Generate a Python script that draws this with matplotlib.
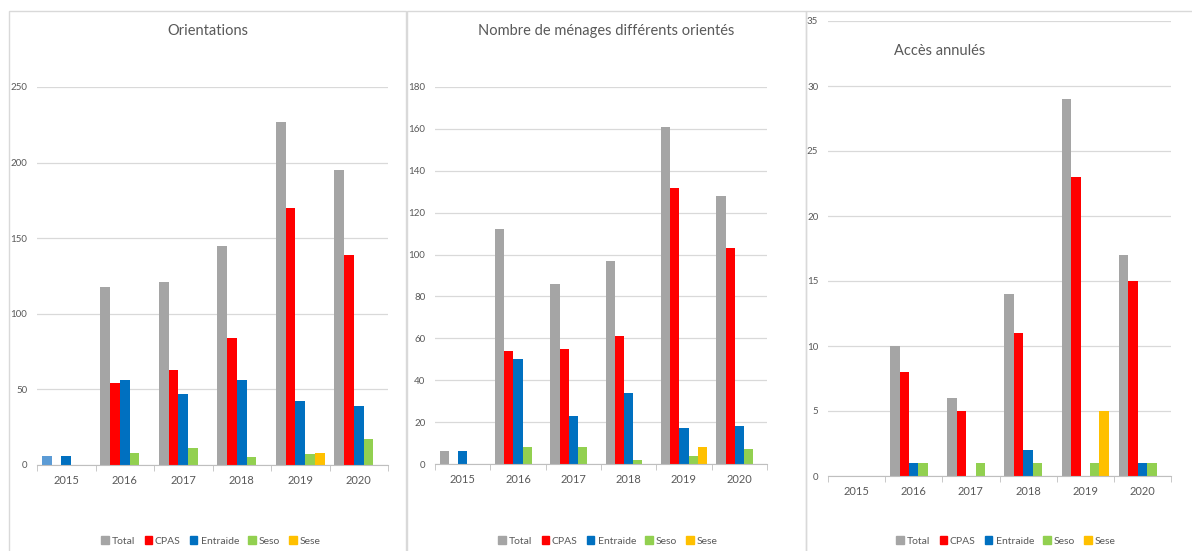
import numpy as np
import matplotlib.pyplot as plt
from matplotlib.patches import Rectangle, Patch

plt.rcParams['font.family'] = ['Lato', 'DejaVu Sans']

years = ['2015', '2016', '2017', '2018', '2019', '2020']
series = ['Total', 'CPAS', 'Entraide', 'Seso', 'Sese']
colors = ['#A5A5A5', '#FF0000', '#0070C0', '#92D050', '#FFC000']

# Orientations
orient_total = [6, 118, 121, 145, 227, 195]
orient_cpas = [0, 54, 63, 84, 170, 139]
orient_entraide = [6, 56, 47, 56, 42, 39]
orient_seso = [0, 8, 11, 5, 7, 17]
orient_sese = [0, 0, 0, 0, 8, 0]

# Nombre de ménages différents orientés
menages_total = [6, 112, 86, 97, 161, 128]
menages_cpas = [0, 54, 55, 61, 132, 103]
menages_entraide = [6, 50, 23, 34, 17, 18]
menages_seso = [0, 8, 8, 2, 4, 7]
menages_sese = [0, 0, 0, 0, 8, 0]

# Accès annulés
acces_total = [0, 10, 6, 14, 29, 17]
acces_cpas = [0, 8, 5, 11, 23, 15]
acces_entraide = [0, 1, 0, 2, 0, 1]
acces_seso = [0, 1, 1, 1, 1, 1]
acces_sese = [0, 0, 0, 0, 5, 0]

W, H = 1192, 551
fig = plt.figure(figsize=(W / 100, H / 100), dpi=100)
fig.patch.set_facecolor('white')

# panel frames (pixels: x0, x1)
for x0, x1 in [(9, 406), (407, 806), (806, 1200)]:
    fig.patches.append(Rectangle((x0 / W, -0.1), (x1 - x0) / W, (H - 11) / H + 0.1,
                                 transform=fig.transFigure, fill=False,
                                 edgecolor='#D9D9D9', lw=1.0))


def panel(box, data, ymax, ystep, title, title_xy, legend_x, first_color=None):
    x0, x1, ytop, ybot = box
    ax = fig.add_axes([x0 / W, (H - ybot) / H, (x1 - x0) / W, (ybot - ytop) / H])
    x = np.arange(len(years))
    w = 0.166
    for i, vals in enumerate(data):
        c = [colors[i]] * len(years)
        if i == 0 and first_color:
            c[0] = first_color
        ax.bar(x + (i - 2) * w, vals, w, color=c)
    ax.set_xlim(-0.5, len(years) - 0.5)
    ax.set_ylim(0, ymax)
    ax.set_yticks(np.arange(0, ymax + 1, ystep))
    ax.yaxis.grid(True, color='#D9D9D9', lw=0.9)
    ax.set_axisbelow(True)
    for s in ['top', 'right', 'left']:
        ax.spines[s].set_visible(False)
    ax.spines['bottom'].set_color('#BFBFBF')
    ax.set_xticks(x)
    ax.set_xticklabels(years)
    ax.set_xticks(np.arange(-0.5, len(years)), minor=True)
    ax.tick_params(axis='x', which='major', length=0, pad=7, labelsize=8, labelcolor='#595959')
    ax.tick_params(axis='x', which='minor', length=4, color='#BFBFBF')
    ax.tick_params(axis='y', length=0, pad=7, labelsize=7, labelcolor='#595959')
    fig.text(title_xy[0] / W, (H - title_xy[1]) / H, title, ha='center', va='center',
             fontsize=10.5, color='#595959')
    handles = [Patch(color=c) for c in colors]
    fig.legend(handles, series, loc='center', bbox_to_anchor=(legend_x / W, (H - 541) / H),
               ncol=5, frameon=False, fontsize=7.5, handlelength=0.7, handleheight=0.7,
               handletextpad=0.3, columnspacing=0.9, labelcolor='#595959')
    return ax


panel((37, 388, 87, 465),
      [orient_total, orient_cpas, orient_entraide, orient_seso, orient_sese],
      250, 50, 'Orientations', (208, 31), 211, first_color='#5B9BD5')
panel((435, 767, 87, 464),
      [menages_total, menages_cpas, menages_entraide, menages_seso, menages_sese],
      180, 20, 'Nombre de ménages différents orientés', (606, 31), 608)
panel((828, 1171, 21, 476),
      [acces_total, acces_cpas, acces_entraide, acces_seso, acces_sese],
      35, 5, 'Accès annulés', (940, 51), 1006)

fig.savefig('out.png', dpi=100)
